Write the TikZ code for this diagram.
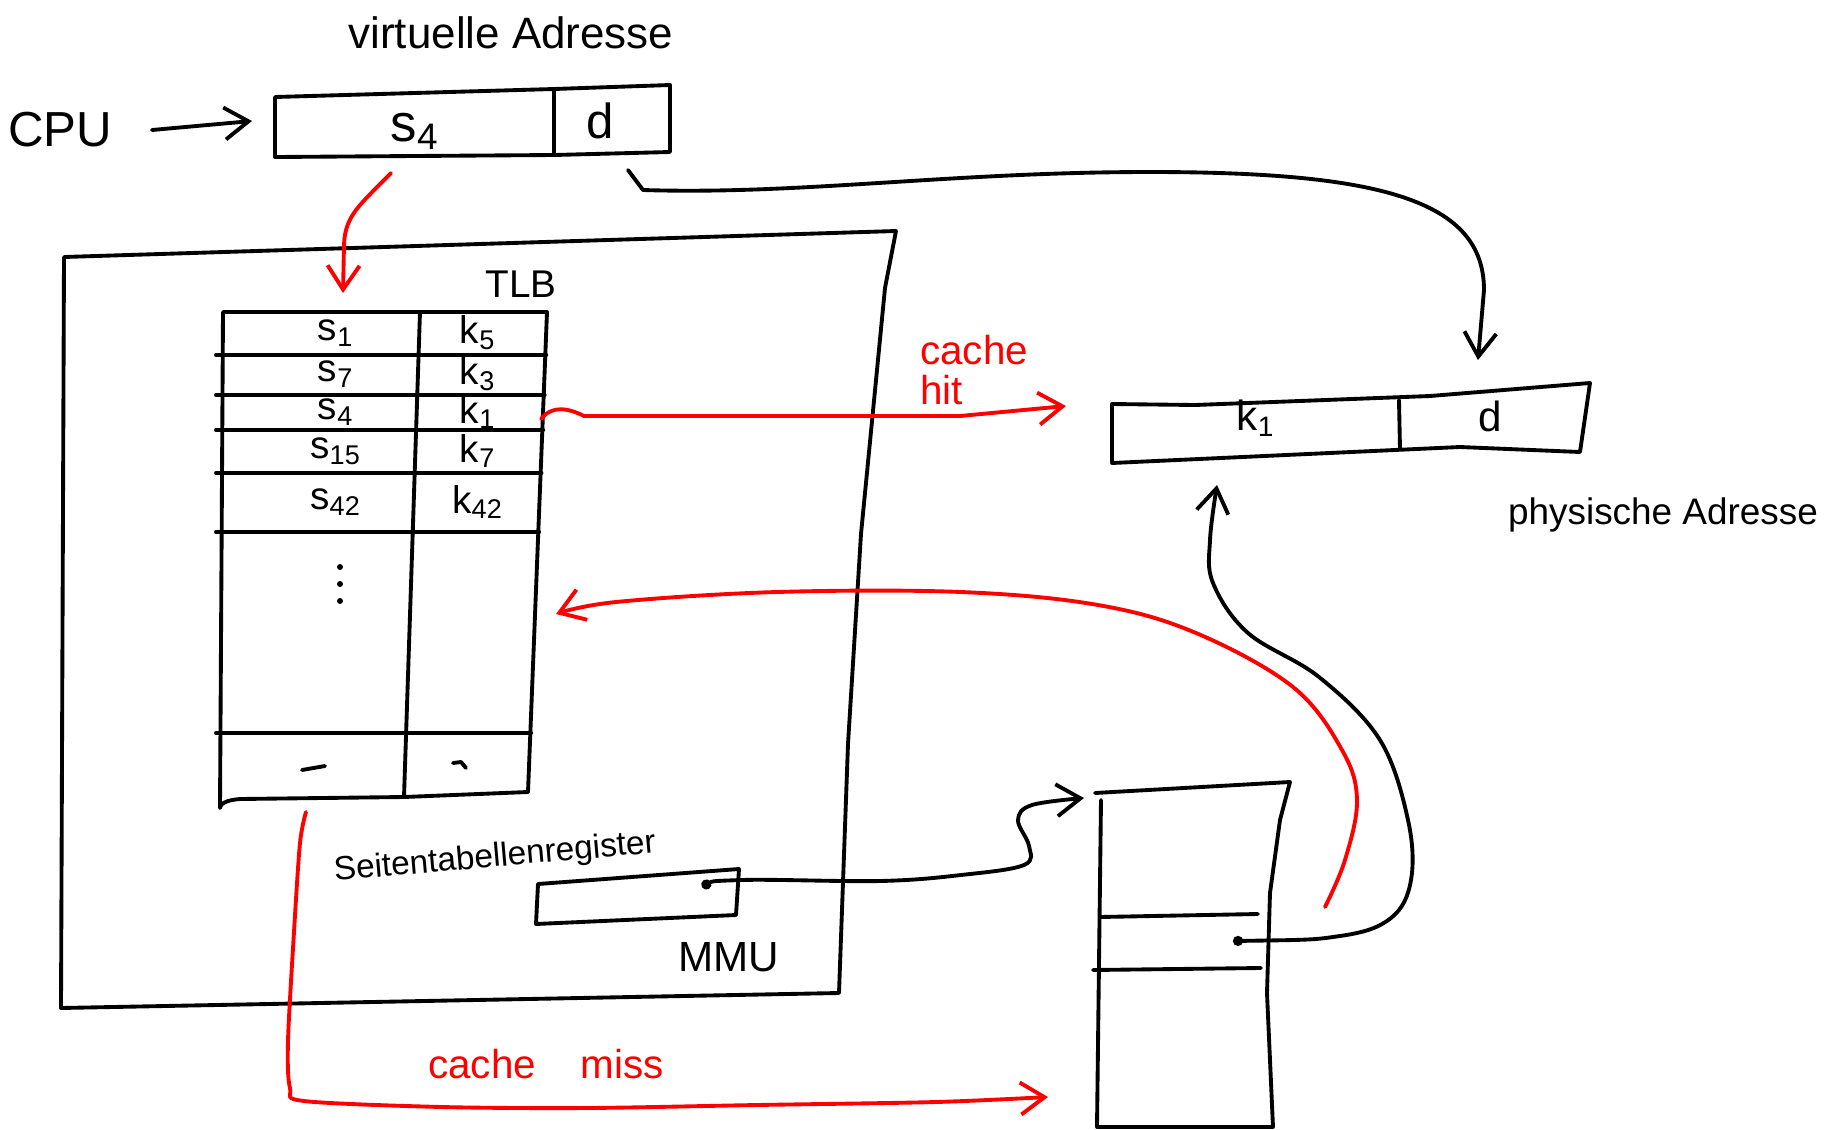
\documentclass[tikz,border=0pt]{standalone}
\usepackage{fontspec}
\setmainfont{Liberation Sans}
\usepackage{xcolor}
\usepackage{tikz}
\usetikzlibrary{arrows.meta,calc}

\begin{document}
\begin{tikzpicture}[x=0.1mm, y=-0.1mm,
    pen/.style={line width=1.1pt, line cap=round, line join=round},
    redpen/.style={pen, red},
    arr/.style={-{Straight Barb[length=2.4mm,width=3.2mm]}},
    dotarr/.style={{Circle[length=1mm]}-{Straight Barb[length=2.4mm,width=3.2mm]}},
    fs/.style={inner sep=1pt, font=\fontsize{#1}{#1}\selectfont}]

    \useasboundingbox (0,0) rectangle (1836,1130);

    % virtuelle Adresse
    \node[fs=12.5] (vtitle) at (511,33) {virtuelle Adresse};
    \node[fs=14] (cpu) at (60,130) {CPU};
    \coordinate (cpuout) at (152,130);
    \coordinate (vin) at (252,121);
    \draw[pen] (275,97) -- (554,89) -- (670,85) -- (670,152) -- (554,155) -- (275,157) -- cycle;
    \draw[pen] (554,89) -- (554,155);
    \node[fs=15] (vs) at (415,131) {s\textsubscript{4}};
    \node[fs=14] (vd) at (600,121) {d};
    \draw[pen, arr] (cpuout) -- (vin);

    % MMU
    \draw[pen] (64,257) -- (896,231) -- (885,288) -- (861,534) -- (848,744) -- (839,993) -- (61,1008) -- cycle;
    \node[fs=12] (mmu) at (729,957) {MMU};
    \node[fs=11] (tlbtitle) at (521,284) {TLB};

    % TLB
    \draw[pen] (223,312) -- (547,312) -- (528,792) -- (404,797) -- (240,799)
        .. controls (226,800) and (220,804) .. (220,808) -- cycle;
    \draw[pen] (420,312) -- (404,797);
    \foreach \ry in {355,395,430,473,532,733}
        \draw[pen] (216,\ry) -- ({548-(\ry-312)*0.04},\ry);
    \foreach \ry/\s/\k in {333/1/5, 374/7/3, 412/4/1, 451/15/7, 502/42/42} {
        \node[fs=11] (tlbs\s) at (336,\ry) {s\textsubscript{\s}};
        \node[fs=11] (tlbk\k) at (478,\ry) {k\textsubscript{\k}};
    }
    \foreach \dy in {567,584,601}
        \fill (340,\dy) circle (3);
    \draw[pen] (302,770) -- (325,766);
    \draw[pen] (453,763) -- (461,762) -- (466,768);
    \coordinate (vsout) at (391,173);
    \coordinate (tlbin) at (343,293);
    \draw[redpen, arr] (vsout) .. controls (360,205) and (345,215) .. (344,245) -- (tlbin);

    % Seitentabellenregister
    \node[fs=9.5, rotate=5] (regtitle) at (495,858) {Seitentabellenregister};
    \draw[pen] (538,884) -- (739,869) -- (736,915) -- (536,924) -- cycle;

    % physische Adresse
    \draw[pen] (1112,404) -- (1195,405) -- (1430,396) -- (1590,383) -- (1580,452) -- (1460,447) -- (1112,463) -- cycle;
    \draw[pen] (1399,400) -- (1400,449);
    \node[fs=12] (pk) at (1256,418) {k\textsubscript{1}};
    \node[fs=12] (pd) at (1490,416) {d};
    \node[fs=10.5] (ptitle) at (1663,515) {physische Adresse};
    \coordinate (dout) at (628,170);
    \coordinate (pin) at (1478,360);
    \draw[pen, arr] (dout) -- (643,190) .. controls (800,195) and (950,172) .. (1150,172)
        .. controls (1380,172) and (1484,200) .. (1484,290) -- (pin);

    % cache hit
    \coordinate (hitstart) at (541,419);
    \coordinate (hitend) at (1066,406);
    \draw[redpen, arr] (hitstart) .. controls (552,405) and (568,408) .. (584,416) -- (960,416) -- (hitend);
    \node[fs=11.5, red, align=left, anchor=west] (hitlbl) at (916,370) {cache\\hit};

    % Seitentabelle
    \draw[pen] (1101,800) -- (1097,1127) -- (1273,1127) -- (1267,993) -- (1270,893) -- (1280,820) -- (1290,782) -- (1095,793);
    \draw[pen] (1100,917) -- (1258,914);
    \draw[pen] (1093,970) -- (1261,968);
    \coordinate (regdot) at (702,887);
    \coordinate (ptin) at (1084,798);
    \draw[pen, dotarr] plot[smooth, tension=0.6] coordinates {(regdot) (742,880) (880,881) (961,875) (1024,865) (1029,846) (1018,820) (1032,805) (ptin)};
    \coordinate (ptdot) at (1233,941);
    \coordinate (pup) at (1217,485);
    \draw[pen, dotarr] plot[smooth, tension=0.6] coordinates {(ptdot) (1340,936) (1391,918) (1411,880) (1408,820) (1380,740) (1319,677) (1248,633) (1213,583) (1210,540) (pup)};

    % zurueck in den TLB
    \coordinate (wbstart) at (1325,907);
    \coordinate (wbend) at (556,614);
    \draw[redpen, arr] plot[smooth, tension=0.6] coordinates {(wbstart) (1345,860) (1357,800) (1342,750) (1293,687) (1196,633) (1098,605) (961,592) (777,592) (616,602) (wbend)};

    % cache miss
    \coordinate (missstart) at (306,812);
    \coordinate (missend) at (1048,1097);
    \draw[redpen, arr] plot[smooth, tension=0.5] coordinates {(missstart) (300,843) (294,932) (288,1041) (290,1088) (304,1101) (442,1107) (587,1108) (757,1105) (936,1102) (missend)};
    \node[fs=11.5, red] (misslbl) at (546,1064) {cache\hspace{1.1em}miss};
\end{tikzpicture}
\end{document}
